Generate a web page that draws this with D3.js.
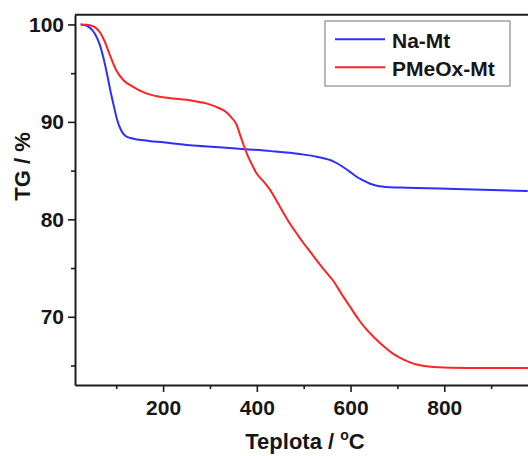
<!DOCTYPE html>
<html>
<head>
<meta charset="utf-8">
<script src="https://cdn.jsdelivr.net/npm/d3@7"></script>
<style>
  html, body { margin: 0; padding: 0; background: #fff; }
  svg { display: block; font-family: "Liberation Sans", Arial, sans-serif; }
</style>
</head>
<body>
<div id="chart"></div>
<script>
// ---- data ----
const seriesNames = ["Na-Mt", "PMeOx-Mt"];
const seriesColors = ["#2e2eff", "#ff2424"];

const naMtTemp = [24, 35, 45, 55, 65, 72, 80, 88, 95, 102, 108, 114, 120, 130, 145, 170, 200, 257, 320, 374, 430, 492, 530, 563, 580, 598, 612, 627, 642, 656, 684, 720, 842, 978];
const naMtTG   = [100, 99.9, 99.6, 99.0, 97.9, 96.7, 95.0, 93.1, 91.6, 90.2, 89.4, 88.85, 88.55, 88.35, 88.2, 88.05, 87.9, 87.6, 87.4, 87.2, 87.0, 86.7, 86.4, 85.95, 85.5, 84.9, 84.4, 84.0, 83.65, 83.45, 83.3, 83.25, 83.1, 82.9];

const pmeoxTemp = [24, 35, 45, 55, 65, 75, 86, 100, 115, 136, 160, 190, 220, 260, 292, 320, 335, 345, 357, 364, 372, 380, 392, 399, 414, 428, 438, 449, 460, 470, 485, 499, 515, 534, 549, 563, 580, 598, 616, 634, 652, 670, 688, 705, 723, 741, 776, 848, 978];
const pmeoxTG   = [100, 99.97, 99.9, 99.7, 99.2, 98.3, 96.9, 95.3, 94.3, 93.6, 93.0, 92.6, 92.4, 92.2, 91.9, 91.4, 91.0, 90.5, 89.7, 88.7, 87.6, 86.6, 85.4, 84.75, 83.9, 83.05, 82.25, 81.33, 80.4, 79.6, 78.55, 77.6, 76.6, 75.4, 74.5, 73.7, 72.4, 71.1, 69.8, 68.7, 67.8, 67.0, 66.3, 65.8, 65.4, 65.1, 64.85, 64.75, 64.75];

const xMajorTicks = [200, 400, 600, 800];
const xMinorTicks = [100, 300, 500, 700, 900];
const yMajorTicks = [70, 80, 90, 100];
const yMinorTicks = [65, 75, 85, 95];

const xTitle = "Teplota / ";
const xTitleUnit = "C";
const yTitle = "TG / %";

// ---- layout ----
const W = 528, H = 456;
const mLeft = 75, mTop = 14.7, mBottom = 385;

const svg = d3.select("#chart").append("svg")
  .attr("width", W).attr("height", H);

const x = d3.scaleLinear().domain([12, 1000]).range([mLeft, 538]);
const y = d3.scaleLinear().domain([63, 101]).range([mBottom, mTop]);

const axisColor = "#1c1c1c";
const textColor = "#161616";

// clip for the plot area
svg.append("defs").append("clipPath").attr("id", "plotclip")
  .append("rect").attr("x", mLeft).attr("y", mTop).attr("width", W - mLeft + 20).attr("height", mBottom - mTop);

// curves
const series = [
  naMtTemp.map((t, i) => [t, naMtTG[i]]),
  pmeoxTemp.map((t, i) => [t, pmeoxTG[i]])
];
const line = d3.line().x(d => x(d[0])).y(d => y(d[1])).curve(d3.curveMonotoneX);
const g = svg.append("g").attr("clip-path", "url(#plotclip)");
series.forEach((s, i) => {
  g.append("path").datum(s)
    .attr("fill", "none")
    .attr("stroke", seriesColors[i])
    .attr("stroke-width", 2)
    .attr("stroke-linejoin", "round")
    .attr("d", line);
});

// axes
function styleAxis(sel) {
  sel.selectAll("path.domain").attr("stroke", axisColor).attr("stroke-width", 2);
  sel.selectAll(".tick line").attr("stroke", axisColor).attr("stroke-width", 1.6);
  sel.selectAll(".tick text").attr("fill", textColor)
    .style("font-size", "21px").style("font-weight", "bold")
    .style("font-family", "'Liberation Sans', Arial, sans-serif");
}

const xAxis = svg.append("g").attr("transform", `translate(0,${mBottom})`)
  .call(d3.axisBottom(x).tickValues(xMajorTicks).tickSize(7).tickSizeOuter(0).tickPadding(8).tickFormat(d3.format("d")));
styleAxis(xAxis);
svg.append("g").attr("transform", `translate(0,${mBottom})`)
  .call(d3.axisBottom(x).tickValues(xMinorTicks).tickSize(4).tickFormat(""))
  .call(s => { s.select("path.domain").remove(); s.selectAll(".tick line").attr("stroke", axisColor).attr("stroke-width", 1.6); });

const yAxis = svg.append("g").attr("transform", `translate(${mLeft},0)`)
  .call(d3.axisLeft(y).tickValues(yMajorTicks).tickSize(7).tickSizeOuter(0).tickPadding(4).tickFormat(d3.format("d")));
styleAxis(yAxis);
svg.append("g").attr("transform", `translate(${mLeft},0)`)
  .call(d3.axisLeft(y).tickValues(yMinorTicks).tickSize(4).tickFormat(""))
  .call(s => { s.select("path.domain").remove(); s.selectAll(".tick line").attr("stroke", axisColor).attr("stroke-width", 1.6); });

// top frame line
svg.append("line")
  .attr("x1", mLeft).attr("x2", W + 5)
  .attr("y1", y(101)).attr("y2", y(101))
  .attr("stroke", axisColor).attr("stroke-width", 2);

// axis titles
const xt = svg.append("text")
  .attr("x", 305).attr("y", 449)
  .attr("text-anchor", "middle")
  .attr("fill", textColor)
  .style("font-size", "22px").style("font-weight", "bold")
  .text(xTitle);
xt.append("tspan").attr("dy", -9).style("font-size", "14px").text("o");
xt.append("tspan").attr("dy", 9).text(xTitleUnit);

svg.append("text")
  .attr("transform", "translate(30,166.5) rotate(-90)")
  .attr("text-anchor", "middle")
  .attr("fill", textColor)
  .style("font-size", "22px").style("font-weight", "bold")
  .text(yTitle);

// legend
const lg = svg.append("g");
lg.append("rect")
  .attr("x", 325).attr("y", 21).attr("width", 185).attr("height", 65)
  .attr("fill", "#fff").attr("stroke", "#8a8a8a").attr("stroke-width", 1.2);
const legendRowsY = [39.3, 67.3];
seriesNames.forEach((name, i) => {
  lg.append("line")
    .attr("x1", 335).attr("x2", 385)
    .attr("y1", legendRowsY[i]).attr("y2", legendRowsY[i])
    .attr("stroke", seriesColors[i]).attr("stroke-width", 2);
  lg.append("text")
    .attr("x", 392).attr("y", legendRowsY[i] + 8.5)
    .attr("fill", textColor)
    .style("font-size", "21px").style("font-weight", "bold")
    .text(name);
});
</script>
</body>
</html>
